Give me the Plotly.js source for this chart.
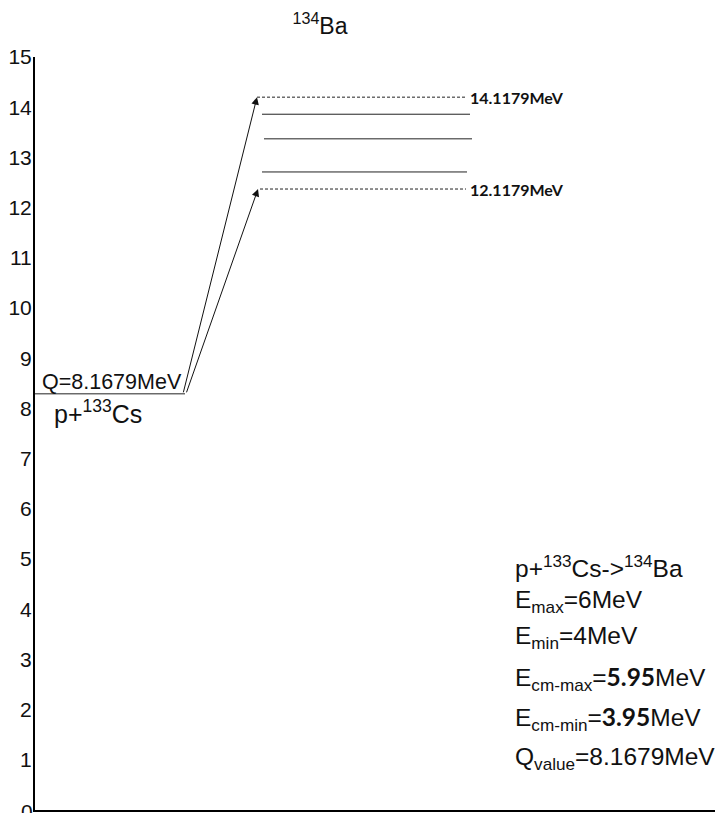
<!DOCTYPE html>
<html>
<head>
<meta charset="utf-8">
<script src="https://cdn.plot.ly/plotly-3.0.1.min.js"></script>
<style>html,body{margin:0;padding:0;background:#fff;}#chart{width:725px;height:813px;}</style>
</head>
<body>
<div id="chart"></div>
<script>
// ---- data (energies as drawn, MeV) ----
const entranceLabel = 'Q=8.1679MeV';
const entranceName = 'p+<sup>133</sup>Cs';
const entranceLevel = 8.29;
const upperLevels = [14.20, 13.86, 13.37, 12.71, 12.37];
const upperStyles = ['dash', 'solid', 'solid', 'solid', 'dash'];
const upperLabels = ['14.1179MeV', '', '', '', '12.1179MeV'];
const arrowTargets = [14.20, 12.37];
const yTicks = [0,1,2,3,4,5,6,7,8,9,10,11,12,13,14,15];
const infoLines = [
  'p+<sup>133</sup>Cs-><sup>134</sup>Ba',
  'E<sub>max</sub>=6MeV',
  'E<sub>min</sub>=4MeV',
  'E<sub>cm-max</sub>=<b><span style="font-family:Lato">5.95</span></b>MeV',
  'E<sub>cm-min</sub>=<b><span style="font-family:Lato">3.95</span></b>MeV',
  'Q<sub>value</sub>=8.1679MeV'
];
const titleText = '<sup>134</sup>Ba';

// ---- layout geometry (pixels -> axis units) ----
const L = 35, T = 57, B = 810;
const pxPerUnit = (B - T) / 15;
const X = p => p - L;
const Y = p => (B - p) / pxPerUnit;
const upperX0 = [257, 262, 264, 262, 260];
const upperX1 = [466, 470, 472, 467, 466];
const infoY = [566, 601, 637, 678, 718, 758];

const traces = [];
traces.push({
  x: [X(35), X(185)], y: [entranceLevel, entranceLevel],
  mode: 'lines', line: {color: '#222', width: 1}, hoverinfo: 'skip', showlegend: false
});
upperLevels.forEach((v, i) => {
  traces.push({
    x: [X(upperX0[i]), X(upperX1[i])], y: [v, v], mode: 'lines',
    line: {color: '#222', width: 1, dash: upperStyles[i] === 'dash' ? '3px,2px' : 'solid'},
    hoverinfo: 'skip', showlegend: false
  });
});

const ann = [];
// arrows
const arrowTails = [183, 186];
const arrowHeads = [257, 258];
arrowTargets.forEach((v, i) => {
  ann.push({
    x: X(arrowHeads[i]), y: v, ax: X(arrowTails[i]), ay: entranceLevel,
    xref: 'x', yref: 'y', axref: 'x', ayref: 'y', text: '', showarrow: true,
    arrowhead: 2, arrowsize: 1.5, arrowwidth: 1, arrowcolor: '#111', standoff: 0
  });
});
upperLabels.forEach((t, i) => {
  if (!t) return;
  ann.push({
    x: X(468), y: upperLevels[i], xref: 'x', yref: 'y', text: '<b>' + t + '</b>',
    showarrow: false, xanchor: 'left', yanchor: 'middle',
    font: {family: 'Lato', size: 16, color: '#111'}
  });
});
ann.push({
  x: X(40), y: Y(382), xref: 'x', yref: 'y', text: entranceLabel, showarrow: false,
  xanchor: 'left', yanchor: 'middle', font: {family: 'Liberation Sans', size: 21.5, color: '#111'}
});
ann.push({
  x: X(52), y: Y(412), xref: 'x', yref: 'y', text: entranceName, showarrow: false,
  xanchor: 'left', yanchor: 'middle', font: {family: 'Liberation Sans', size: 25, color: '#111'}
});
infoLines.forEach((t, i) => {
  ann.push({
    x: X(513), y: Y(infoY[i]), xref: 'x', yref: 'y', text: t, showarrow: false,
    xanchor: 'left', yanchor: 'middle', font: {family: 'Liberation Sans', size: 24.5, color: '#111'}
  });
});
// bottom "0" tick label (cut by the page edge, as in the reference)
ann.push({
  x: 0, y: yTicks[0], xref: 'paper', yref: 'y', text: String(yTicks[0]), showarrow: false,
  xanchor: 'right', yanchor: 'middle', xshift: 0, yshift: -1,
  font: {family: 'Liberation Sans', size: 21, color: '#111'}
});

const layout = {
  width: 725, height: 813,
  margin: {l: L, r: 10, t: T, b: 813 - B, pad: 0},
  paper_bgcolor: '#fff', plot_bgcolor: '#fff',
  title: {text: titleText, x: 320 / 725, xanchor: 'center', y: 1 - 26 / 813, yanchor: 'middle',
          font: {family: 'Liberation Sans', size: 23, color: '#111'}},
  xaxis: {range: [0, 680], showgrid: false, zeroline: false, showline: true, linecolor: '#000',
          linewidth: 2, showticklabels: false, ticks: '', fixedrange: true},
  yaxis: {range: [0, 15], tickvals: yTicks.slice(1), ticktext: yTicks.slice(1).map(String), showgrid: false,
          zeroline: false, showline: true, linecolor: '#000', linewidth: 2, ticks: '',
          ticklabelstandoff: -3,
          tickfont: {family: 'Liberation Sans', size: 21, color: '#111'}, fixedrange: true},
  annotations: ann,
  showlegend: false
};
Plotly.newPlot('chart', traces, layout, {displayModeBar: false, staticPlot: true});
</script>
</body>
</html>
